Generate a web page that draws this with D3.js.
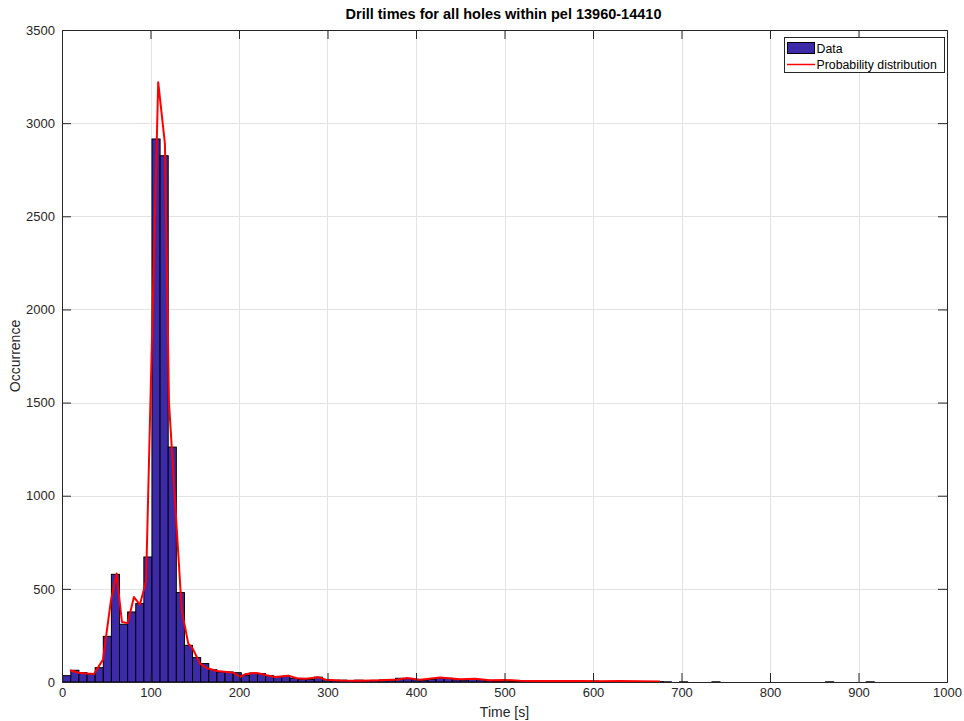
<!DOCTYPE html>
<html>
<head>
<meta charset="utf-8">
<script src="https://cdn.jsdelivr.net/npm/d3@7"></script>
<style>
  body { margin: 0; background: #fff; }
  svg { display: block; font-family: "Liberation Sans", Arial, Helvetica, sans-serif; }
</style>
</head>
<body>
<svg id="chart" width="964" height="721"></svg>
<script>
// ---- data ----
const title = "Drill times for all holes within pel 13960-14410";
const xLabel = "Time [s]";
const yLabel = "Occurrence";
const xTicks = [0, 100, 200, 300, 400, 500, 600, 700, 800, 900, 1000];
const yTicks = [0, 500, 1000, 1500, 2000, 2500, 3000, 3500];
const binStart = 0.8;     // left edge of first histogram bin [s]
const binWidth = 9.17;    // bin width [s]
const counts = [
  34, 63, 50, 43, 77, 245, 578, 310, 376, 421,
  671, 2915, 2825, 1261, 480, 197, 131, 99, 66, 54,
  54, 50, 36, 48, 45, 34, 29, 31, 20, 16,
  14, 26, 12, 9, 10, 8, 10, 8, 9, 11,
  10, 20, 18, 12, 10, 14, 22, 20, 12, 10,
  14, 12, 8, 6, 7, 5, 4, 6, 5, 4,
  5, 6, 4, 3, 4, 5, 3, 2, 3, 2,
  3, 2, 1, 2, 1, 0, 1, 0, 0, 0,
  1, 0, 0, 0, 0, 0, 0, 0, 0, 0,
  0, 0, 0, 0, 1, 0, 0, 0, 0, 1
];
const pdfTime = [
  9.0, 18.6, 27.7, 36.1, 46.3, 55.3, 61.7, 67.7, 74.2, 81.3,
  88.0, 95.0, 108.7, 116.3, 120.9, 135.3, 142.7, 147.7, 155.9, 163.5,
  174.8, 186.1, 193.6, 201.1, 206.8, 216.2, 223.7, 231.3, 240.7, 255.7,
  265.2, 275.7, 289.3, 298.3, 314.1, 336.7, 359.3, 379.7, 389.8, 404.5,
  427.1, 449.7, 466.7, 483.6, 500.6, 517.5, 540.1, 562.7, 585.3, 607.9,
  630.5, 653.1, 675.7
];
const pdfCount = [
  63, 50, 45, 43, 120, 438, 582, 322, 316, 456,
  416, 540, 3220, 2890, 1500, 385, 206, 179, 99, 75,
  59, 54, 50, 27, 41, 48, 45, 36, 27, 34,
  20, 18, 26, 12, 8, 7, 9, 14, 22, 12,
  24, 15, 17, 9, 11, 7, 6, 5, 6, 4,
  5, 4, 3
];
const legendLabels = ["Data", "Probability distribution"];

// ---- layout ----
const svg = d3.select("#chart");
const margin = { left: 62, right: 947, top: 30, bottom: 682 };
const x = d3.scaleLinear().domain([0, 1000]).range([margin.left, margin.right]);
const y = d3.scaleLinear().domain([0, 3500]).range([margin.bottom, margin.top]);
const axisColor = "#262626";

// background
svg.append("rect").attr("x", margin.left).attr("y", margin.top)
  .attr("width", margin.right - margin.left).attr("height", margin.bottom - margin.top)
  .attr("fill", "#fff");

// grid
const grid = svg.append("g").attr("stroke", "#e3e3e3").attr("stroke-width", 1);
xTicks.slice(1, -1).forEach(t => grid.append("line")
  .attr("x1", Math.round(x(t)) + 0.5).attr("x2", Math.round(x(t)) + 0.5)
  .attr("y1", margin.top).attr("y2", margin.bottom));
yTicks.slice(1, -1).forEach(t => grid.append("line")
  .attr("y1", Math.round(y(t)) + 0.5).attr("y2", Math.round(y(t)) + 0.5)
  .attr("x1", margin.left).attr("x2", margin.right));

// bars
svg.append("g").selectAll("rect").data(counts).join("rect")
  .attr("x", (d, i) => x(binStart + i * binWidth))
  .attr("width", (d, i) => x(binStart + (i + 1) * binWidth) - x(binStart + i * binWidth))
  .attr("y", d => y(d))
  .attr("height", d => y(0) - y(d))
  .attr("fill", "#3d2aa8")
  .attr("stroke", "#000")
  .attr("stroke-width", 1);

// probability distribution line
const pts = pdfTime.map((t, i) => [t, pdfCount[i]]);
svg.append("path").datum(pts)
  .attr("d", d3.line().x(d => x(d[0])).y(d => y(d[1])))
  .attr("fill", "none").attr("stroke", "#ff0000").attr("stroke-width", 2)
  .attr("stroke-linejoin", "round");

// axes
const xAxis = d3.axisBottom(x).tickValues(xTicks).tickSize(-9).tickPadding(6).tickFormat(d3.format("d"));
const yAxis = d3.axisLeft(y).tickValues(yTicks).tickSize(-9).tickPadding(7).tickFormat(d3.format("d"));
const gx = svg.append("g").attr("transform", `translate(0,${margin.bottom})`).call(xAxis);
const gy = svg.append("g").attr("transform", `translate(${margin.left},0)`).call(yAxis);
[gx, gy].forEach(g => {
  g.selectAll("path").attr("stroke", axisColor);
  g.selectAll("line").attr("stroke", axisColor);
  g.selectAll("text").attr("fill", axisColor).style("font-size", "13px")
    .style("font-family", "'Liberation Sans', Arial, sans-serif");
});
// top and right box with inward ticks
const gxTop = svg.append("g").attr("transform", `translate(0,${margin.top})`)
  .call(d3.axisTop(x).tickValues(xTicks).tickSize(-9).tickFormat(""));
const gyRight = svg.append("g").attr("transform", `translate(${margin.right},0)`)
  .call(d3.axisRight(y).tickValues(yTicks).tickSize(-9).tickFormat(""));
[gxTop, gyRight].forEach(g => {
  g.selectAll("path").attr("stroke", axisColor);
  g.selectAll("line").attr("stroke", axisColor);
});

// labels
svg.append("text").attr("x", (margin.left + margin.right) / 2).attr("y", 717)
  .attr("text-anchor", "middle").attr("fill", axisColor).style("font-size", "14px").text(xLabel);
svg.append("text").attr("transform", `translate(20,${(margin.top + margin.bottom) / 2}) rotate(-90)`)
  .attr("text-anchor", "middle").attr("fill", axisColor).style("font-size", "14px").text(yLabel);
svg.append("text").attr("x", (margin.left + margin.right) / 2 - 1).attr("y", 19)
  .attr("text-anchor", "middle").attr("fill", "#000").style("font-size", "14.5px")
  .style("font-weight", "bold").text(title);

// legend
const lg = svg.append("g");
lg.append("rect").attr("x", 784.5).attr("y", 37.5).attr("width", 160).attr("height", 35)
  .attr("fill", "#fff").attr("stroke", axisColor).attr("stroke-width", 1);
lg.append("rect").attr("x", 787.5).attr("y", 42.5).attr("width", 27).attr("height", 11)
  .attr("fill", "#3d2aa8").attr("stroke", "#000");
lg.append("line").attr("x1", 787).attr("x2", 815).attr("y1", 64.5).attr("y2", 64.5)
  .attr("stroke", "#ff0000").attr("stroke-width", 1.5);
lg.selectAll("text.leg").data(legendLabels).join("text")
  .attr("x", 816.5).attr("y", (d, i) => 52.5 + i * 16)
  .attr("fill", "#000").style("font-size", "12.3px").text(d => d);
</script>
</body>
</html>
